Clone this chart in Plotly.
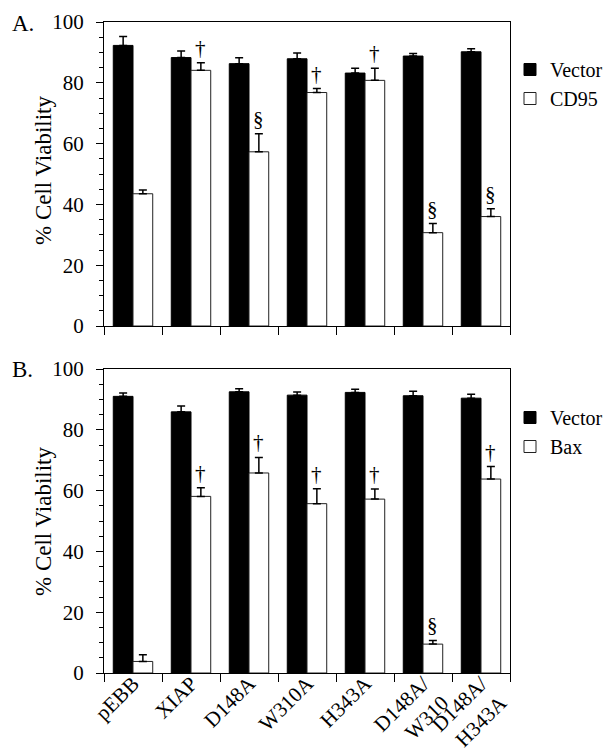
import plotly.graph_objects as go

# ---------------- data ----------------
categories = ["pEBB", "XIAP", "D148A", "W310A", "H343A", "D148A/<br>W310", "D148A/<br>H343A"]

vector_a = [92.3, 88.3, 86.3, 87.9, 83.2, 88.8, 90.2]
vector_a_err = [2.9, 2.2, 1.9, 1.9, 1.6, 0.8, 1.0]
cd95 = [43.5, 84.1, 57.3, 76.8, 80.8, 30.7, 36.0]
cd95_err = [1.2, 2.5, 5.9, 1.3, 4.0, 3.0, 2.6]
marks_a = ["", "†", "§", "†", "†", "§", "§"]

vector_b = [91.0, 85.9, 92.5, 91.4, 92.3, 91.2, 90.4]
vector_b_err = [1.1, 1.9, 1.0, 1.0, 1.0, 1.5, 1.3]
bax = [3.8, 58.1, 65.8, 55.7, 57.2, 9.5, 63.8]
bax_err = [2.2, 2.8, 5.1, 4.9, 3.3, 1.2, 4.1]
marks_b = ["", "†", "†", "†", "†", "§", "†"]

y_ticks = [0, 20, 40, 60, 80, 100]

# ---------------- layout constants ----------------
W, H = 612, 751
FONT = "Liberation Serif, Times New Roman, Times, serif"
X0, X1 = 104, 510
TOP_A, BOT_A = 22, 326
TOP_B, BOT_B = 369, 673
BARGAP = 0.32


def px_x(p):
    return p / W


def px_y(p):
    return 1 - p / H


def err(vals):
    return dict(type="data", array=vals, arrayminus=[0] * len(vals), symmetric=False,
                color="black", thickness=1.5, width=4)


fig = go.Figure()

fig.add_trace(go.Bar(x=categories, y=vector_a, name="Vector", error_y=err(vector_a_err),
                     marker=dict(color="black", line=dict(color="black", width=1)),
                     xaxis="x", yaxis="y", legend="legend"))
fig.add_trace(go.Bar(x=categories, y=cd95, name="CD95", error_y=err(cd95_err),
                     marker=dict(color="white", line=dict(color="#222", width=1)),
                     xaxis="x", yaxis="y", legend="legend"))
fig.add_trace(go.Bar(x=categories, y=vector_b, name="Vector", error_y=err(vector_b_err),
                     marker=dict(color="black", line=dict(color="black", width=1)),
                     xaxis="x2", yaxis="y2", legend="legend2"))
fig.add_trace(go.Bar(x=categories, y=bax, name="Bax", error_y=err(bax_err),
                     marker=dict(color="white", line=dict(color="#222", width=1)),
                     xaxis="x2", yaxis="y2", legend="legend2"))

yax = dict(range=[0, 100], tickvals=y_ticks, ticks="outside", ticklen=7, tickwidth=1,
           tickcolor="black", showline=True, linecolor="black", linewidth=1, mirror=True,
           showgrid=False, zeroline=False, automargin=False, ticklabelstandoff=8,
           minor=dict(dtick=5, ticks="outside", ticklen=4, tickwidth=1, tickcolor="black",
                      showgrid=False),
           tickfont=dict(family=FONT, size=21, color="black"))
xax = dict(type="category", range=[-0.5, 6.5], tickson="boundaries", ticks="outside",
           ticklen=8, tickwidth=1, tickcolor="black", showline=True, linecolor="black",
           linewidth=1, mirror=True, showgrid=False, zeroline=False, automargin=False,
           domain=[px_x(X0), px_x(X1)], tickangle=-45, ticklabelstandoff=-11,
           tickfont=dict(family=FONT, size=21, color="black"))

annotations = []
off = (1 - BARGAP) / 4
for i, (m, v, e) in enumerate(zip(marks_a, cd95, cd95_err)):
    if m:
        annotations.append(dict(x=i + off, y=v + e, xref="x", yref="y", text=m, showarrow=False,
                                yanchor="bottom", yshift=1,
                                font=dict(family=FONT, size=21, color="black")))
for i, (m, v, e) in enumerate(zip(marks_b, bax, bax_err)):
    if m:
        annotations.append(dict(x=i + off, y=v + e, xref="x2", yref="y2", text=m, showarrow=False,
                                yanchor="bottom", yshift=1,
                                font=dict(family=FONT, size=21, color="black")))

for lab, ytop in (("A.", TOP_A), ("B.", TOP_B)):
    annotations.append(dict(x=px_x(10), y=px_y(ytop + 1), xref="paper", yref="paper", text=lab,
                            showarrow=False, xanchor="left", yanchor="middle",
                            font=dict(family=FONT, size=23, color="black")))
for ytop, ybot, dy in ((TOP_A, BOT_A, -3), (TOP_B, BOT_B, 1)):
    annotations.append(dict(x=px_x(43), y=px_y((ytop + ybot) / 2 + dy), xref="paper",
                            yref="paper", text="% Cell Viability", textangle=-90,
                            showarrow=False, xanchor="center", yanchor="middle",
                            font=dict(family=FONT, size=23, color="black")))

legend_style = dict(xanchor="left", yanchor="top", bgcolor="rgba(0,0,0,0)",
                    font=dict(family=FONT, size=20, color="black"), tracegroupgap=0)

fig.update_layout(
    width=W, height=H, margin=dict(l=0, r=0, t=0, b=0),
    paper_bgcolor="white", plot_bgcolor="white",
    barmode="group", bargap=BARGAP, bargroupgap=0,
    font=dict(family=FONT, color="black"),
    xaxis=dict(xax, anchor="y", showticklabels=False),
    yaxis=dict(yax, anchor="x", domain=[px_y(BOT_A), px_y(TOP_A)]),
    xaxis2=dict(xax, anchor="y2", showticklabels=True),
    yaxis2=dict(yax, anchor="x2", domain=[px_y(BOT_B), px_y(TOP_B)]),
    legend=dict(legend_style, x=px_x(510), y=px_y(50)),
    legend2=dict(legend_style, x=px_x(510), y=px_y(398)),
    annotations=annotations,
    showlegend=True,
)

fig.write_html("out.html", config={"displayModeBar": False},
               post_script="document.body.style.margin='0';document.body.style.overflow='hidden';")
